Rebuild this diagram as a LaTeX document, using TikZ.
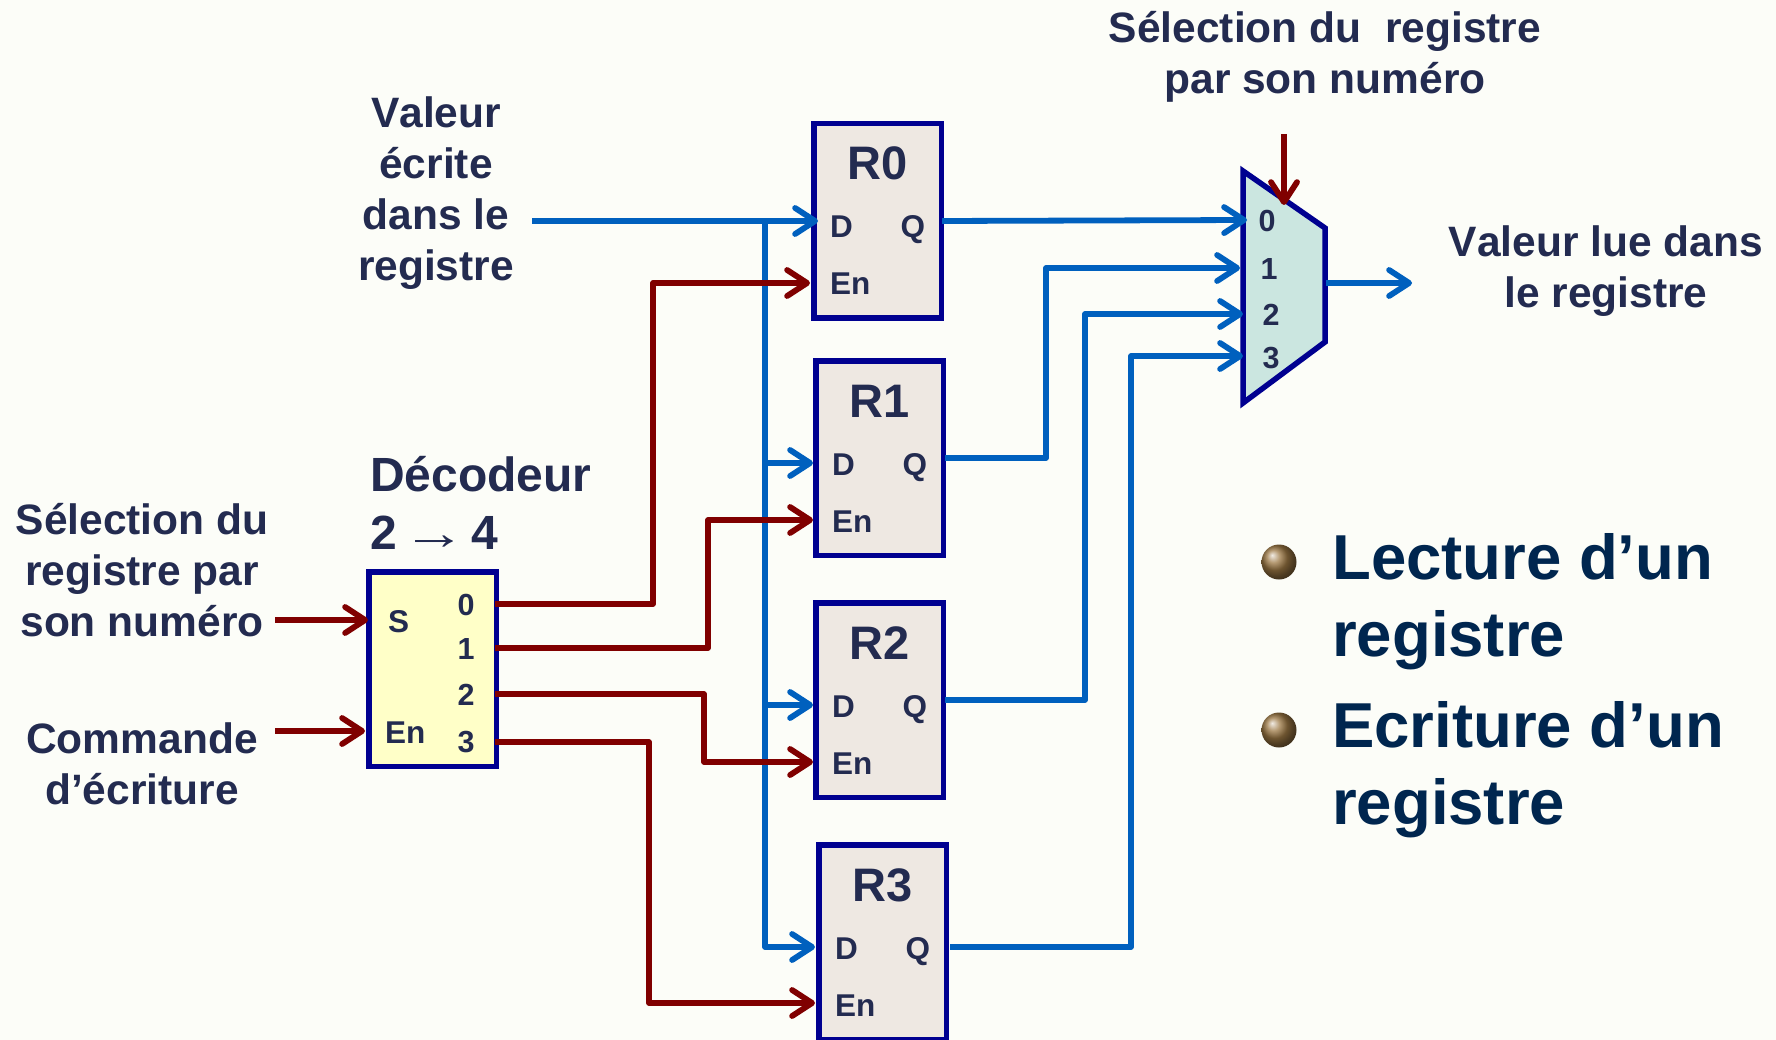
\documentclass[tikz,border=0pt]{standalone}
\usepackage{fontspec}
\setmainfont[Kerning=Off]{Liberation Sans}
\newfontfamily\arrowfont{Liberation Serif}
\usetikzlibrary{arrows.meta}
\definecolor{pagebg}{HTML}{FCFDF8}
\definecolor{ink}{HTML}{232B50}
\definecolor{bigink}{HTML}{00264F}
\definecolor{accD}{HTML}{0060BE}
\definecolor{accC}{HTML}{800000}
\definecolor{rule}{HTML}{000090}
\definecolor{regfill}{HTML}{EEE8E2}
\definecolor{decfill}{HTML}{FFFFC8}
\definecolor{muxfill}{HTML}{CBE6E0}
\definecolor{ballcol}{HTML}{9C7844}
\tikzset{
  card/.style    ={draw=rule, line width=5.5pt, inner sep=0pt},
  Lreg/.style    ={card, fill=regfill, anchor=north west,
                   minimum width=127.5pt, minimum height=194.5pt},
  Ldec/.style    ={card, fill=decfill, anchor=north west,
                   minimum width=127.5pt, minimum height=194.5pt},
  Lmux/.style    ={draw=rule, line width=5.5pt, fill=muxfill, line join=miter},
  label/.style   ={inner sep=0pt, text=ink, align=center,
                   font=\fontsize{42.5}{51}\selectfont\bfseries},
  title/.style   ={inner sep=0pt, text=ink, align=left,
                   font=\fontsize{48}{58}\selectfont\bfseries},
  regname/.style ={inner sep=0pt, text=ink, anchor=base,
                   font=\fontsize{47}{50}\selectfont\bfseries},
  pinname/.style ={inner sep=0pt, text=ink, anchor=base west,
                   font=\fontsize{31.5}{34}\selectfont\bfseries},
  portnum/.style ={inner sep=0pt, text=ink, anchor=base,
                   font=\fontsize{30.5}{34}\selectfont\bfseries},
  bigtext/.style ={inner sep=0pt, text=bigink, align=left, anchor=west,
                   font=\fontsize{63.5}{77}\selectfont\bfseries},
  bullet/.style  ={circle, inner sep=0pt, minimum size=35pt, ball color=ballcol},
  wire/.style    ={line width=5.8pt, line join=round,
                   -{Straight Barb[length=20pt,width=26pt,round]}},
  data/.style    ={wire, accD},
  ctrl/.style    ={wire, accC},
  bus/.style     ={line width=5.8pt, line join=round, accD},
}
\begin{document}
\begin{tikzpicture}[x=1pt, y=-1pt]

\fill[pagebg] (0,0) rectangle (1776,1040);
\useasboundingbox (0,0) rectangle (1776,1040);
\clip (0,0) rectangle (1776,1040);

% registers
\foreach \n/\bx/\by/\xD/\yD/\yEn/\xEn/\xQ/\yQ in {
    0/811/121/818/221/283/810/942/221,
    1/813/358/813/463/520/813/945/458,
    2/813/600/813/705/762/813/945/700,
    3/816/842/815/947/1003/815/950/947} {
  \node[Lreg] (R\n) at (\bx, \by) {};
  \node[regname] (R\n name) at (\bx + 67, \by + 59) {R\n};
  \node[pinname] (R\n d)  at (\bx + 19, \by + 117) {D};
  \node[pinname] (R\n q)  at (\bx + 89.5, \by + 117) {Q};
  \node[pinname] (R\n en) at (\bx + 19, \by + 174) {En};
  \coordinate (D\n)  at (\xD, \yD);
  \coordinate (En\n) at (\xEn, \yEn);
  \coordinate (Q\n)  at (\xQ, \yQ);
}

% decoder
\node[Ldec] (dec) at (366, 569) {};
\node[title, anchor=north west] (dectitle) at (370, 456.5)
  {Décodeur\\2 \hspace*{-8pt}{\arrowfont\mdseries\scalebox{1.33}[1]{→}}\hspace*{-8pt} 4};
\node[pinname] (decS)  at (388, 632) {S};
\node[pinname] (decEn) at (385, 743) {En};
\foreach \n/\y/\yw in {0/615/604, 1/659/648, 2/705/694, 3/752/742} {
  \node[portnum] (dec\n name) at (466, \y) {\n};
  \coordinate (dec\n) at (495, \yw);
}

% multiplexer
\draw[Lmux] (1243,171) -- (1325,228) -- (1325,342) -- (1243,403) -- cycle;
\foreach \n/\x/\y/\tip/\yw in {0/1267/232/1247/220, 1/1269/280/1240/268,
                               2/1271/326/1243/314, 3/1271/368/1243/356} {
  \node[portnum] (mux\n name) at (\x, \y) {\n};
  \coordinate (mux\n) at (\tip, \yw);
}
\coordinate (muxout) at (1326, 283);
\coordinate (muxsel) at (1284, 205);

% texts
\node[label] (valw) at (436, 193.5)
  {Valeur\\écrite\\dans le\\registre};
\node[label] (selr) at (1325, 56.5)
  {Sélection du\ \ registre\\par son numéro};
\node[label] (valr) at (1606, 271.5)
  {Valeur lue dans\\le registre};
\node[label] (seld) at (142, 570)
  {Sélection du\\registre par\\son numéro};
\node[label] (wcmd) at (142, 764)
  {Commande\\d’écriture};
\node[bullet] (bul0) at (1279, 562) {};
\node[bullet] (bul1) at (1279, 730) {};
\node[bigtext] (lect) at (1332, 602) {Lecture d’un\\registre};
\node[bigtext] (ecri) at (1332, 770) {Ecriture d’un\\registre};

% free ends
\coordinate (inval)   at (532, 221);
\coordinate (inS)     at (275, 620);
\coordinate (inEn)    at (275, 731);
\coordinate (tipS)    at (368, 620);
\coordinate (tipEn)   at (365, 731);
\coordinate (topsel)  at (1284, 134);
\coordinate (outval)  at (1412, 283);
\coordinate (bus0)    at (765, 221);
\coordinate (bus1)    at (765, 463);
\coordinate (bus2)    at (765, 705);

% data side
\draw[data] (inval) -- (D0);
\draw[bus]  (bus0) -- (bus2);
\draw[data] (bus1) -- (D1);
\draw[data] (bus2) -- (D2);
\draw[data] (bus2) |- (D3);
\draw[data] (Q0) -- (mux0);
\foreach \n/\bend in {1/1046, 2/1085, 3/1131} {
  \coordinate (qb\n) at (\bend, 0);
  \draw[data] (Q\n) -| (qb\n |- mux\n) -- (mux\n);
}
\draw[data] (muxout) -- (outval);

% control side
\draw[ctrl] (inS) -- (tipS);
\draw[ctrl] (inEn) -- (tipEn);
\draw[ctrl] (topsel) -- (muxsel);
\foreach \n/\bend in {0/653, 1/708, 2/704, 3/649} {
  \coordinate (cb\n) at (\bend, 0);
  \draw[ctrl] (dec\n) -| (cb\n |- En\n) -- (En\n);
}

\end{tikzpicture}
\end{document}
